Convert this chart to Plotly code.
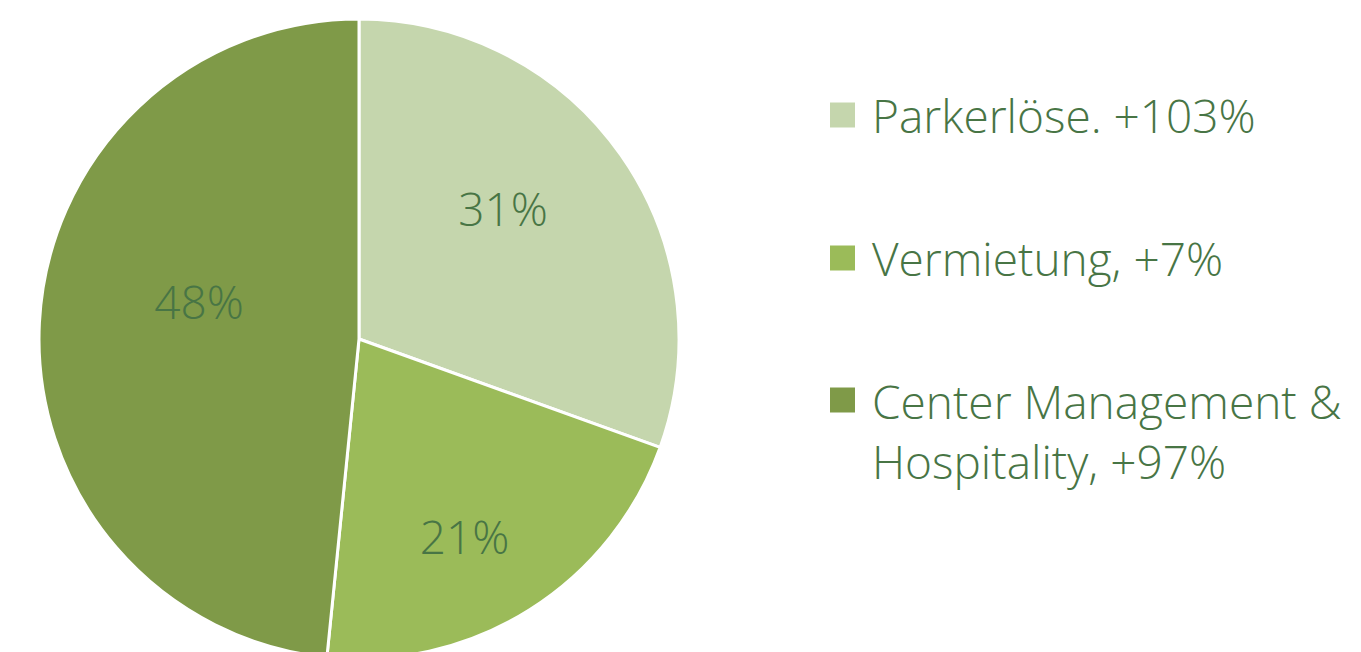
import plotly.graph_objects as go

categories = ["Parkerlöse.", "Vermietung,", "Center Management &<br>Hospitality,"]
growth = ["+103%", "+7%", "+97%"]
shares = [30.5, 21.1, 48.4]
colors = ["#C5D6AD", "#9BBB59", "#7F9A48"]

W, H = 1361, 660
TEXT = "#487545"
FONT = "Open Sans"

fig = go.Figure()
fig.add_trace(go.Pie(
    labels=categories,
    values=shares,
    sort=False,
    direction="clockwise",
    rotation=0,
    marker=dict(colors=colors, line=dict(color="white", width=3)),
    texttemplate=["%{percent:.0%}<br> ", " <br>%{percent:.0%}", "%{percent:.0%}<br> "],
    textposition="inside",
    insidetextorientation="horizontal",
    textfont=dict(family=FONT, size=46, color=TEXT, weight=300),
    domain=dict(x=[39 / W, 679 / W], y=[1 - 659 / H, 1 - 19 / H]),
    showlegend=False,
    hoverinfo="label+percent",
))

# custom legend
legend_y = [115, 258, 431]
square_y = [115, 258, 400]
for cat, g, col, yc, ys in zip(categories, growth, colors, legend_y, square_y):
    fig.add_shape(type="rect", xref="paper", yref="paper",
                  x0=830 / W, x1=855 / W,
                  y0=1 - (ys - 12.5) / H, y1=1 - (ys + 12.5) / H,
                  fillcolor=col, line=dict(width=0))
    fig.add_annotation(xref="paper", yref="paper", x=870 / W, y=1 - yc / H,
                       xanchor="left", yanchor="middle", align="left",
                       text=f"{cat} {g}", showarrow=False,
                       font=dict(family=FONT, size=46, color=TEXT, weight=300))

fig.update_layout(
    width=W, height=H,
    margin=dict(l=0, r=0, t=0, b=0),
    paper_bgcolor="white", plot_bgcolor="white",
)

fig.write_html("out.html", config={"displayModeBar": False},
               post_script="document.body.style.margin='0';document.body.style.overflow='hidden';")
